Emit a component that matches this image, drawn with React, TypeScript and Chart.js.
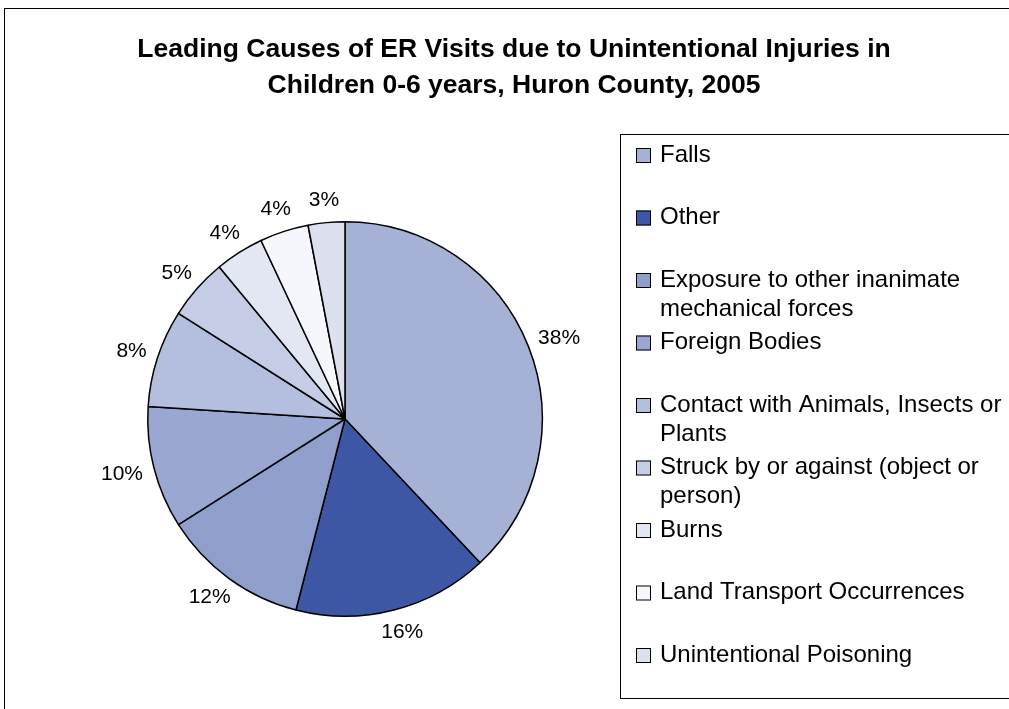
import React, { useEffect, useRef } from "react";
import { Chart, registerables } from "chart.js";

Chart.register(...registerables);

const titleLines = [
  "Leading Causes of ER Visits due to Unintentional Injuries in",
  "Children 0-6 years, Huron County, 2005",
];

const categories = [
  "Falls",
  "Other",
  "Exposure to other inanimate mechanical forces",
  "Foreign Bodies",
  "Contact with Animals, Insects or Plants",
  "Struck by or against (object or person)",
  "Burns",
  "Land Transport Occurrences",
  "Unintentional Poisoning",
];

const shares = [38, 16, 12, 10, 8, 5, 4, 4, 3];

const sliceColors = [
  "#A6B1D6",
  "#3D57A5",
  "#909ECC",
  "#9AA7D3",
  "#B4BEDE",
  "#C5CCE5",
  "#E3E6F3",
  "#F6F7FC",
  "#DCE0EF",
];

const FONT = '"Liberation Sans", Arial, Helvetica, sans-serif';

const decorPlugin = {
  id: "decor",
  afterDraw(chart: any) {
    const ctx = chart.ctx as CanvasRenderingContext2D;
    ctx.save();
    // outer chart frame
    ctx.strokeStyle = "#000";
    ctx.lineWidth = 1;
    ctx.strokeRect(4.5, 8.5, 1200, 900);

    // title
    ctx.fillStyle = "#000";
    ctx.font = `bold 26.5px ${FONT}`;
    ctx.textAlign = "center";
    ctx.textBaseline = "alphabetic";
    ctx.fillText(titleLines[0], 514, 57);
    ctx.fillText(titleLines[1], 514, 93);

    // percentage labels outside slices
    const meta = chart.getDatasetMeta(0);
    const data = chart.data.datasets[0].data as number[];
    const total = data.reduce((a, b) => a + b, 0);
    ctx.font = `21px ${FONT}`;
    ctx.textAlign = "center";
    ctx.textBaseline = "middle";
    meta.data.forEach((arc: any, i: number) => {
      const p = arc.getProps(["x", "y", "startAngle", "endAngle", "outerRadius"], true);
      const mid = (p.startAngle + p.endAngle) / 2;
      const ux = Math.cos(mid);
      const uy = Math.sin(mid);
      const txt = Math.round((data[i] / total) * 100) + "%";
      const w = ctx.measureText(txt).width;
      const h = 22;
      const r = p.outerRadius + 12;
      const cx = p.x + ux * r + ux * (w / 2);
      const cy = p.y + uy * r + uy * (h / 2);
      ctx.fillText(txt, cx, cy);
    });

    // legend
    ctx.strokeStyle = "#000";
    ctx.lineWidth = 1;
    ctx.strokeRect(620.5, 134.5, 600, 564);
    ctx.font = `24px ${FONT}`;
    ctx.textAlign = "left";
    ctx.textBaseline = "middle";
    const labels = chart.data.labels as string[];
    const colors = chart.data.datasets[0].backgroundColor as string[];
    const maxW = 352;
    labels.forEach((lab, i) => {
      const y0 = 155 + i * 62.5;
      ctx.fillStyle = colors[i];
      ctx.fillRect(636, y0 - 7, 15, 15);
      ctx.strokeStyle = "#000";
      ctx.strokeRect(636.5, y0 - 6.5, 14, 14);
      // wrap
      const words = lab.split(" ");
      const lines: string[] = [];
      let cur = "";
      words.forEach((wd) => {
        const test = cur ? cur + " " + wd : wd;
        if (ctx.measureText(test).width > maxW && cur) {
          lines.push(cur);
          cur = wd;
        } else cur = test;
      });
      if (cur) lines.push(cur);
      ctx.fillStyle = "#000";
      lines.forEach((ln, j) => ctx.fillText(ln, 660, y0 + j * 29));
    });
    ctx.restore();
  },
};

export default function App() {
  const ref = useRef<HTMLCanvasElement | null>(null);
  useEffect(() => {
    if (!ref.current) return;
    const chart = new Chart(ref.current, {
      type: "pie",
      data: {
        labels: categories,
        datasets: [
          {
            data: shares,
            backgroundColor: sliceColors,
            borderColor: "#000",
            borderWidth: 1.5,
          },
        ],
      },
      options: {
        responsive: false,
        animation: false,
        layout: { padding: { left: 147, top: 221, right: 466, bottom: 92 } },
        plugins: {
          legend: { display: false },
          title: { display: false },
          tooltip: { enabled: false },
        },
      },
      plugins: [decorPlugin],
    });
    return () => chart.destroy();
  }, []);
  return (
    <div style={{ position: "absolute", left: 0, top: 0, width: 1009, height: 709, background: "#fff" }}>
      <canvas ref={ref} width={1009} height={709} style={{ display: "block" }} />
    </div>
  );
}
